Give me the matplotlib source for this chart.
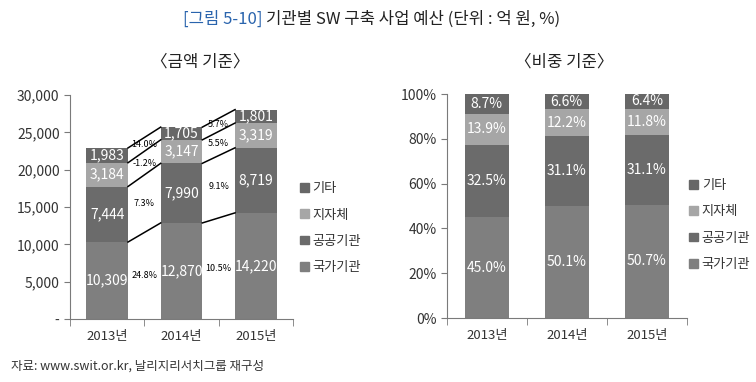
import numpy as np
import matplotlib
matplotlib.use("Agg")
import matplotlib.pyplot as plt
from matplotlib.patches import Patch
from matplotlib.ticker import FuncFormatter, FixedLocator

plt.rcParams['font.family'] = ['Noto Sans CJK KR', 'DejaVu Sans']

years = ['2013년', '2014년', '2015년']
groups = ['국가기관', '공공기관', '지자체', '기타']
national = [10309, 12870, 14220]
public = [7444, 7990, 8719]
local_gov = [3184, 3147, 3319]
others = [1983, 1705, 1801]
# growth labels between years, bottom segment to top (as printed)
growth_13_14 = ['24.8%', '7.3%', '-1.2%', '14.0%']
growth_14_15 = ['10.5%', '9.1%', '5.5%', '5.7%']

colors = ['#7f7f7f', '#6b6b6b', '#a6a6a6', '#676767']
axis_col = '#7a7a7a'
txt_col = '#333333'

series = np.array([national, public, local_gov, others], dtype=float)
tops = np.cumsum(series, axis=0)
x = np.arange(len(years))

fig = plt.figure(figsize=(7.56, 3.82), dpi=100)

fig.text(0.347, 0.950, '[그림 5-10]', color='#2a64ad', fontsize=12, ha='right', va='center')
fig.text(0.352, 0.950, '기관별 SW 구축 사업 예산 (단위 : 억 원, %)', color='#222222',
         fontsize=12, ha='left', va='center')
fig.text(0.265, 0.838, '〈금액 기준〉', fontsize=12, ha='center', va='center', color='#222222')
fig.text(0.747, 0.838, '〈비중 기준〉', fontsize=12, ha='center', va='center', color='#222222')
fig.text(0.014, 0.042, '자료: www.swit.or.kr, 날리지리서치그룹 재구성', fontsize=9,
         ha='left', va='center', color=txt_col)


def style_axes(ax):
    for s in ['top', 'right']:
        ax.spines[s].set_visible(False)
    for s in ['left', 'bottom']:
        ax.spines[s].set_color(axis_col)
    ax.set_xlim(-0.5, len(years) - 0.5)
    ax.set_xticks(x)
    ax.set_xticklabels(years)
    ax.xaxis.set_minor_locator(FixedLocator(np.arange(-0.5, len(years), 1.0)))
    ax.tick_params(axis='x', which='major', length=0, pad=8, labelsize=9.5, labelcolor=txt_col)
    ax.tick_params(axis='x', which='minor', length=5, color=axis_col, direction='out')
    ax.tick_params(axis='y', length=4, color=axis_col, labelsize=10, labelcolor=txt_col)


def add_legend(ax, anchor):
    handles = [Patch(color=c, label=g) for c, g in zip(colors, groups)][::-1]
    fig.legend(handles=handles, loc='upper left', bbox_to_anchor=anchor,
               bbox_transform=fig.transFigure, frameon=False, fontsize=9.5,
               handlelength=0.65, handleheight=0.65, handletextpad=0.3,
               labelspacing=1.0, borderpad=0, labelcolor=txt_col)


# ---- amount chart
ax1 = fig.add_axes([0.0926, 0.165, 0.295, 0.586])
bw1 = 0.56
bottom = np.zeros(len(years))
for vals, c in zip(series, colors):
    bars = ax1.bar(x, vals, bw1, bottom=bottom, color=c, zorder=2)
    ax1.bar_label(bars, labels=[f'{int(v):,}' for v in vals], label_type='center',
                  color='white', fontsize=10, fontweight='medium')
    bottom += vals
ax1.set_ylim(0, 30000)
ax1.set_yticks(np.arange(0, 30001, 5000))
ax1.yaxis.set_major_formatter(FuncFormatter(lambda v, p: '-' if v == 0 else f'{int(v):,}'))
style_axes(ax1)

# connector lines between segment boundaries
for i in range(len(years) - 1):
    for k in range(tops.shape[0]):
        ax1.plot([x[i] + bw1 / 2, x[i + 1] - bw1 / 2], [tops[k, i], tops[k, i + 1]],
                 color='black', lw=1.1, zorder=3)
# growth labels placed between neighbouring connector lines
for i, labels in enumerate([growth_13_14, growth_14_15]):
    mids = np.concatenate([[0], (tops[:, i] + tops[:, i + 1]) / 2])
    for k, lab in enumerate(labels):
        ax1.text(x[i] + 0.5, (mids[k] + mids[k + 1]) / 2, lab, fontsize=6.5,
                 fontweight='medium', ha='center', va='center', color='black', zorder=4)
add_legend(ax1, (0.388, 0.540))

# ---- share chart
ax2 = fig.add_axes([0.591, 0.1675, 0.3175, 0.586])
bw2 = 0.55
shares = series / tops[-1] * 100
bottom = np.zeros(len(years))
for vals, c in zip(shares, colors):
    bars = ax2.bar(x, vals, bw2, bottom=bottom, color=c, zorder=2)
    ax2.bar_label(bars, labels=[f'{v:.1f}%' for v in vals], label_type='center',
                  color='white', fontsize=10, fontweight='medium')
    bottom += vals
ax2.set_ylim(0, 100)
ax2.set_yticks(np.arange(0, 101, 20))
ax2.yaxis.set_major_formatter(FuncFormatter(lambda v, p: f'{int(v)}%'))
style_axes(ax2)
add_legend(ax2, (0.903, 0.548))

fig.savefig('out.png', dpi=100)
